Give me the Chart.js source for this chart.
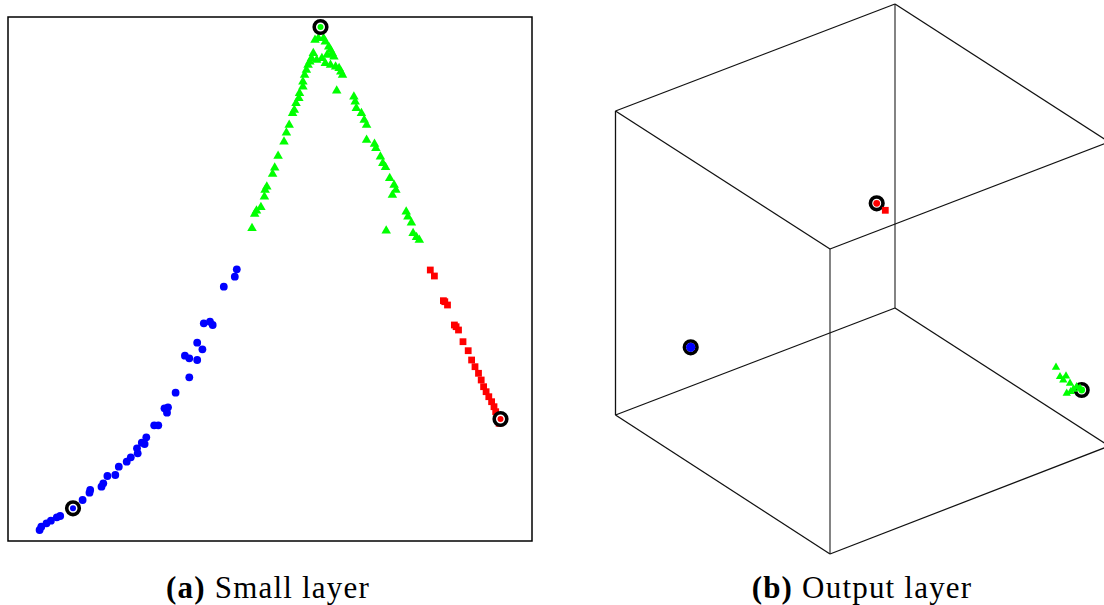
<!DOCTYPE html>
<html>
<head>
<meta charset="utf-8">
<script src="https://cdn.jsdelivr.net/npm/chart.js@4/dist/chart.umd.min.js"></script>
<style>
  html, body { margin: 0; padding: 0; background: #fff; }
  body { width: 1104px; height: 605px; position: relative; overflow: hidden; }
  canvas { position: absolute; }
  .cap { position: absolute; top: 568px; height: 40px; line-height: 40px; text-align: center;
         font-family: "Liberation Serif", "DejaVu Serif", serif; font-size: 31px; letter-spacing: 1.2px; color: #000; }
  .cap b { font-weight: bold; }
</style>
</head>
<body>
<canvas id="small" width="540" height="560" style="left:0;top:0;"></canvas>
<canvas id="out" width="504" height="560" style="left:600px;top:0;"></canvas>
<div class="cap" style="left:0;width:536px;"><b>(a)</b> Small layer</div>
<div class="cap" style="left:600px;width:524px;"><b>(b)</b> Output layer</div>
<script>
// ---------- Panel (a): small layer (2-D activations) ----------
const smallBlueX = [228.8,226.8,215.8,195.8,202.0,204.7,189.2,194.4,176.9,181.3,189.2,181.3,167.6,156.5,160.0,159.0,146.2,150.3,138.3,133.8,136.6,129.0,129.7,122.8,118.7,110.8,107.3,99.4,95.3,93.5,82.2,81.5,74.6,52.2,48.8,42.9,38.5,33.3,31.6];
const smallBlueY = [271.7,264.3,254.3,217.7,219.3,216.0,198.3,191.7,185.3,182.7,181.0,163.7,148.3,132.7,133.7,128.3,115.7,115.7,103.7,98.3,97.0,92.7,87.7,83.7,79.3,74.3,66.0,65.0,57.7,54.3,51.0,48.3,41.0,25.0,23.7,20.3,17.7,14.3,11.0];
const smallGreenX = [310.4,315.6,307.0,317.3,320.7,322.5,324.2,319.0,325.9,305.3,303.5,301.8,300.1,308.7,313.9,317.3,322.5,327.6,331.1,332.8,334.5,298.4,296.6,294.9,294.9,291.5,290.8,288.0,286.3,284.6,328.7,345.9,347.2,348.3,353.4,356.2,358.6,281.2,278.4,276.0,270.1,266.7,264.6,358.6,366.5,367.9,372.4,374.8,377.5,258.8,257.1,256.4,381.7,386.1,387.9,384.4,252.9,248.5,246.7,244.0,378.2,398.2,399.9,403.4,405.1,408.5,411.3];
const smallGreenY = [502.7,502.7,501.0,499.3,494.3,491.0,487.7,486.0,484.3,487.7,482.7,479.3,476.0,481.0,482.7,477.7,476.0,474.3,472.7,469.3,466.0,471.0,466.0,459.3,454.3,447.7,442.7,437.7,431.0,427.7,450.3,444.3,439.3,432.7,427.7,421.0,416.0,416.0,408.3,399.3,385.0,373.3,367.0,401.0,397.0,392.7,384.3,377.7,373.7,354.3,351.0,344.3,362.7,356.0,351.0,346.0,333.7,330.3,327.0,312.7,310.3,329.3,324.3,318.3,307.7,303.7,301.0];
const smallRedX = [422.3,426.4,435.4,436.8,439.5,446.4,448.1,450.5,455.0,460.2,463.6,467.0,470.5,473.2,475.6,478.1,480.8,483.6,486.0,487.7,489.4,491.1];
const smallRedY = [271.0,265.0,240.3,239.3,236.0,216.0,214.3,211.0,199.3,190.3,181.0,174.3,167.7,161.0,154.3,149.3,144.3,139.3,134.3,129.3,124.3,117.7];
// prototypes (ringed): green, red, blue
const smallProtoX = [312.5, 492.5, 65.0];
const smallProtoY = [514.0, 122.0, 32.7];
const smallRange = [0, 524];

// ---------- Panel (b): output layer (projected 3-D) ----------
// cube corners: back-top, left-top, front-top, right-top, back-bottom, left-bottom, front-bottom, right-bottom
const cubeX = [295, 15.5, 230, 509, 295, 15.5, 230, 509];
const cubeY = [556, 449, 311, 418, 252, 145, 6, 114];
const cubeEdges = [[0,1],[1,2],[2,3],[3,0],[4,5],[5,6],[6,7],[7,4],[1,5],[0,4],[2,6],[3,7]];
const greyEdges = [[0,4],[2,6]];
const outGreenX = [456.0,460.0,466.0,463.3,470.0,473.3,466.7,470.7,476.7,480.0];
const outGreenY = [192.7,183.3,184.0,180.0,176.7,170.7,166.7,168.3,173.3,171.7];
const outRedX = [285.3];
const outRedY = [349.7];
// prototypes (ringed): blue, red, green
const outProtoX = [90.7, 276.7, 481.7];
const outProtoY = [212.7, 356.7, 170.0];
const outRangeX = [0, 504];
const outRangeY = [0, 560];

const BLUE = '#0000ff', GREEN = '#00ff00', RED = '#ff0000';
const pts = (xs, ys) => xs.map((x, i) => ({x, y: ys[i]}));

function scatterSet(data, color, style, radius, order) {
  return { data, pointStyle: style, pointRadius: radius, pointHoverRadius: radius,
           pointBackgroundColor: color, pointBorderWidth: 0, pointBorderColor: color,
           showLine: false, order, clip: false };
}
function ringSet(data, fill, order) {
  return { data, pointStyle: 'circle', pointRadius: 6.3, pointHoverRadius: 6.3,
           pointBackgroundColor: fill, pointBorderColor: '#000', pointBorderWidth: 3.6,
           showLine: false, order, clip: false };
}

const frame = {
  id: 'frame',
  afterDraw(chart) {
    const a = chart.chartArea, c = chart.ctx;
    c.save(); c.strokeStyle = '#000'; c.lineWidth = 1.5;
    c.strokeRect(a.left, a.top, a.right - a.left, a.bottom - a.top);
    c.restore();
  }
};

const baseOpts = (xr, yr, pad) => ({
  responsive: false, animation: false, devicePixelRatio: 1,
  layout: { padding: pad, autoPadding: false },
  plugins: { legend: { display: false }, tooltip: { enabled: false } },
  scales: {
    x: { type: 'linear', min: xr[0], max: xr[1], display: false },
    y: { type: 'linear', min: yr[0], max: yr[1], display: false }
  }
});

const protoColorsSmall = [GREEN, RED, BLUE];
new Chart(document.getElementById('small'), {
  type: 'scatter',
  data: { datasets: [
    scatterSet(pts(smallProtoX, smallProtoY), protoColorsSmall, 'circle', 3, 0),
    ringSet(pts(smallProtoX, smallProtoY), '#ffffff', 1),
    scatterSet(pts(smallRedX, smallRedY), RED, 'rect', 4.8, 2),
    scatterSet(pts(smallGreenX, smallGreenY), GREEN, 'triangle', 5.5, 3),
    scatterSet(pts(smallBlueX, smallBlueY), BLUE, 'circle', 3.9, 4)
  ]},
  options: baseOpts(smallRange, smallRange, { left: 8, top: 17, right: 8, bottom: 19 }),
  plugins: [frame]
});

const isGrey = e => greyEdges.some(g => g[0] === e[0] && g[1] === e[1]);
const edgeSets = cubeEdges.map(e => ({
  data: [{x: cubeX[e[0]], y: cubeY[e[0]]}, {x: cubeX[e[1]], y: cubeY[e[1]]}],
  showLine: true, borderColor: isGrey(e) ? '#333' : '#111', borderWidth: isGrey(e) ? 1.2 : 1.3,
  pointRadius: 0, pointHoverRadius: 0, order: 10, clip: false
}));

const protoColorsOut = [BLUE, RED, GREEN];
const protoRadiusOut = [4.6, 3.4, 3.4];
new Chart(document.getElementById('out'), {
  type: 'scatter',
  data: { datasets: [
    scatterSet(pts(outGreenX, outGreenY), GREEN, 'triangle', 4.8, 0),
    scatterSet(pts(outRedX, outRedY), RED, 'rect', 4.8, 1),
    scatterSet(pts(outProtoX, outProtoY), protoColorsOut, 'circle', protoRadiusOut, 2),
    ringSet(pts(outProtoX, outProtoY), 'rgba(0,0,0,0)', 3),
    ...edgeSets
  ]},
  options: baseOpts(outRangeX, outRangeY, 0)
});
</script>
</body>
</html>
